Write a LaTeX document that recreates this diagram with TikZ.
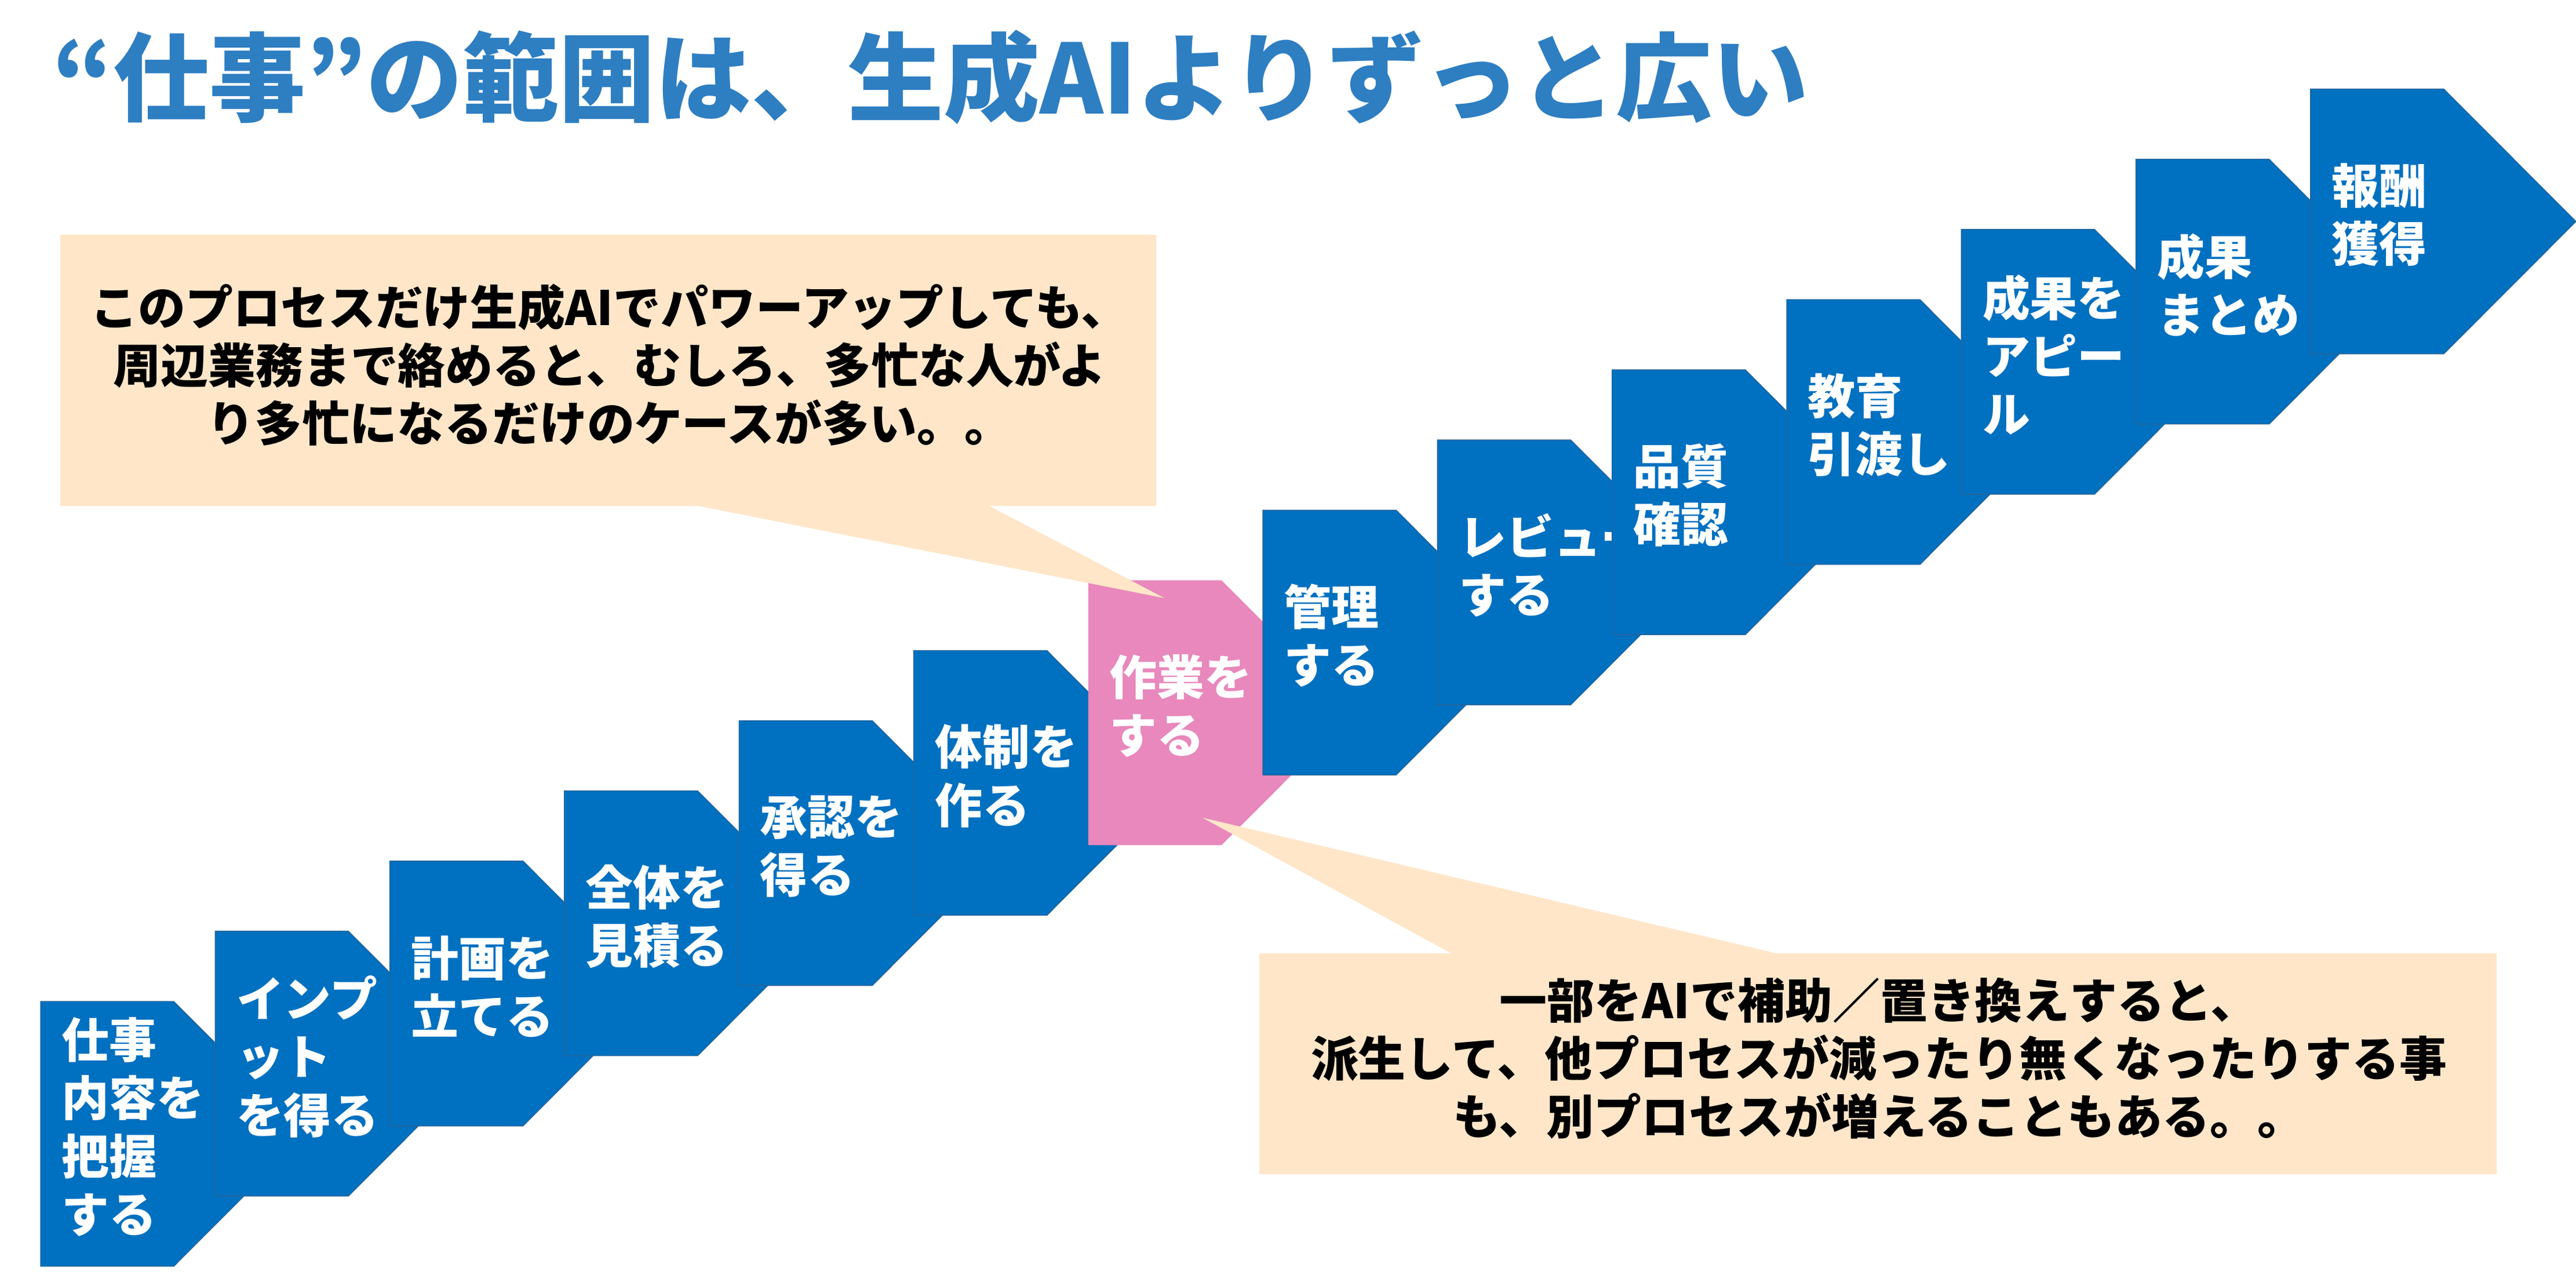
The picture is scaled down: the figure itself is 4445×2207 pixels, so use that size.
\documentclass[tikz,border=0pt]{standalone}
\usepackage{fontspec}
\newfontfamily\jp{Noto Sans CJK JP}
\definecolor{stepblue}{HTML}{0070C0}
\definecolor{stepedge}{HTML}{2A6496}
\definecolor{steppink}{HTML}{E888BC}
\definecolor{calloutfill}{HTML}{FFE6C9}
\definecolor{titleblue}{HTML}{2E7EC2}
\tikzset{
  stepbox/.style={fill=#1, draw=stepedge, line width=0.4pt, line join=miter},
  pinkbox/.style={fill=steppink, draw=none},
  steptext/.style={text=white, font=\jp\bfseries\fontsize{23.3}{28.45}\selectfont, align=left, inner sep=0pt, anchor=west},
  calloutbox/.style={fill=calloutfill, draw=none},
  callouttext/.style={text=black, font=\jp\bfseries\fontsize{23.3}{28.45}\selectfont, align=center, inner sep=0pt},
  titletext/.style={text=titleblue, font=\jp\bfseries\fontsize{47.2}{50}\selectfont, inner sep=0pt, anchor=west}
}
\newcommand{\procstep}[3]{%
  \pgfmathsetmacro{\pL}{70+301.3*#1}%
  \pgfmathsetmacro{\pT}{1728-121.1*#1}%
  \path[#2] (\pL,\pT) -- ++(230,0) -- ++(228,228.5) -- ++(-228,228.5) -- ++(-230,0) -- cycle;
  \node[steptext] (s#1) at (\pL+36,\pT+216.5) {#3};
}
\begin{document}
\begin{tikzpicture}[x=0.01cm, y=-0.01cm]
\useasboundingbox (0,0) rectangle (4445,2207);
\fill[white] (0,0) rectangle (4445,2207);
% title
\node[titletext] (title) at (90,133) {“仕事”の範囲は、生成AIよりずっと広い};
% steps
\procstep{0}{stepbox=stepblue}{仕事\\内容を\\把握\\する}
\procstep{1}{stepbox=stepblue}{インプ\\ット\\を得る}
\procstep{2}{stepbox=stepblue}{計画を\\立てる}
\procstep{3}{stepbox=stepblue}{全体を\\見積る}
\procstep{4}{stepbox=stepblue}{承認を\\得る}
\procstep{5}{stepbox=stepblue}{体制を\\作る}
\procstep{6}{pinkbox}{作業を\\する}
\procstep{7}{stepbox=stepblue}{管理\\する}
\procstep{8}{stepbox=stepblue}{レビュ\rlap{ー}\\する}
\procstep{9}{stepbox=stepblue}{品質\\確認}
\procstep{10}{stepbox=stepblue}{教育\\引渡し}
\procstep{11}{stepbox=stepblue}{成果を\\アピー\\ル}
\procstep{12}{stepbox=stepblue}{成果\\まとめ}
\procstep{13}{stepbox=stepblue}{報酬\\獲得}
% callout 1
\coordinate (p1) at (2009,1032);
\path[calloutbox] (104,405) -- (1995,405) -- (1995,873) -- (1707,873) -- (p1) -- (1205,873) -- (104,873) -- cycle;
\node[callouttext] (c1) at (1052,630) {このプロセスだけ生成AIでパワーアップしても、\\周辺業務まで絡めると、むしろ、多忙な人がよ\\り多忙になるだけのケースが多い。。};
% callout 2
\coordinate (p2) at (2075,1411);
\path[calloutbox] (2173,1645) -- (2504,1645) -- (p2) -- (3065,1645) -- (4308,1645) -- (4308,2026) -- (2173,2026) -- cycle;
\node[callouttext] (c2) at (3242,1826) {一部をAIで補助／置き換えすると、\\派生して、他プロセスが減ったり無くなったりする事\\も、別プロセスが増えることもある。。};
\end{tikzpicture}
\end{document}
